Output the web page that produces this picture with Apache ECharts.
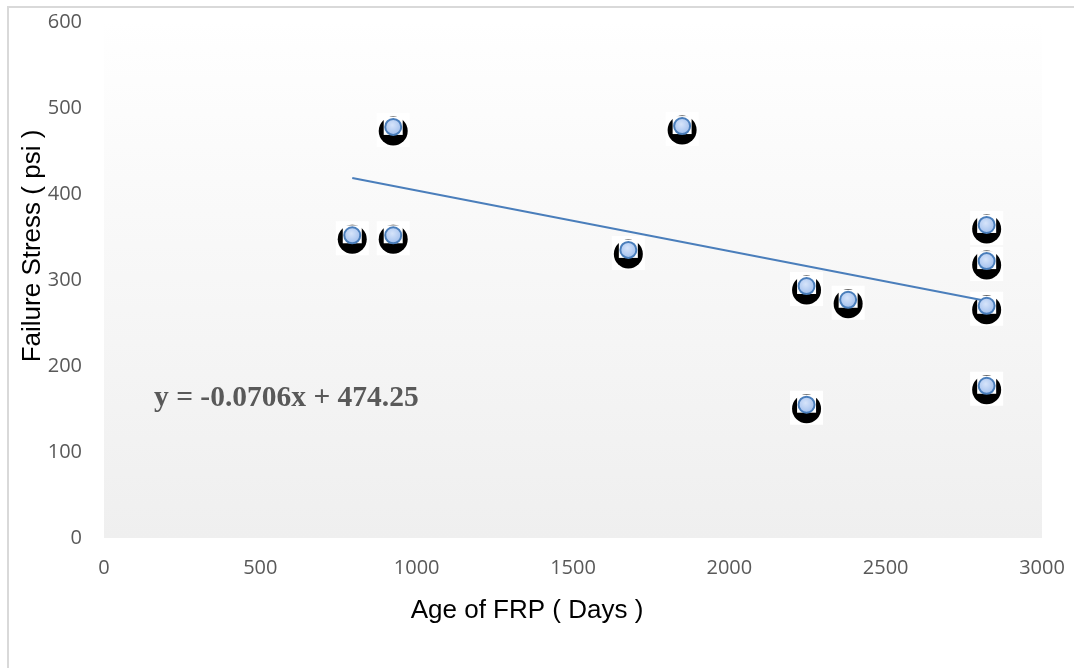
<!DOCTYPE html>
<html>
<head>
<meta charset="utf-8">
<script src="https://cdn.jsdelivr.net/npm/echarts@6/dist/echarts.min.js"></script>
<style>
	html,body{margin:0;padding:0;background:#fff;}
	#main{width:1074px;height:668px;}
</style>
</head>
<body>
<div id="main"></div>
<script>
	// age of FRP (days) and failure stress (psi)
	var ageDays = [794, 925, 925, 1677, 1849, 2247, 2247, 2380, 2823, 2823, 2823, 2823];
	var stressPsi = [352, 478, 352, 335, 479, 293, 155, 277, 364, 322, 270, 177];
	// linear trendline ends
	var trendX = [794, 2823];
	var trendY = [418.5, 275.5];
	var xTicks = [0, 500, 1000, 1500, 2000, 2500, 3000];
	var yTicks = [0, 100, 200, 300, 400, 500, 600];
	var equation = 'y = -0.0706x + 474.25';

	var points = ageDays.map(function(x, i){ return [x, stressPsi[i]]; });
	var trend = trendX.map(function(x, i){ return [x, trendY[i]]; });

	var myChart = echarts.init(document.getElementById('main'));
	var tickFont = {color:'#595959', fontSize:20, fontFamily:'Open Sans', formatter:function(v){ return String(v); }};

	var option = {
		animation:false,
		backgroundColor:'#fff',
		grid:{
			left:104, right:32, top:22, bottom:130,
			show:true, borderWidth:0,
			backgroundColor:new echarts.graphic.LinearGradient(0,0,0,1,[
				{offset:0, color:'#ffffff'},
				{offset:0.05, color:'#fefefe'},
				{offset:1, color:'#efefef'}
			])
		},
		xAxis:{
			type:'value', min:xTicks[0], max:xTicks[xTicks.length-1], interval:500,
			axisLine:{show:false}, axisTick:{show:false}, splitLine:{show:false},
			axisLabel:Object.assign({margin:20}, tickFont)
		},
		yAxis:{
			type:'value', min:yTicks[0], max:yTicks[yTicks.length-1], interval:100,
			axisLine:{show:false}, axisTick:{show:false}, splitLine:{show:false},
			axisLabel:Object.assign({margin:22}, tickFont)
		},
		graphic:[
			{ // outer frame
				type:'rect', x:8, y:7, z:-10, silent:true,
				shape:{width:1080, height:680},
				style:{fill:null, stroke:'#d9d9d9', lineWidth:2}
			},
			{
				type:'text', x:527, y:611, z:10,
				style:{text:'Age of FRP ( Days )', fill:'#000', font:'26px "Liberation Sans", Arial', align:'center', verticalAlign:'middle'}
			},
			{
				type:'text', x:33, y:246, rotation:Math.PI/2, z:10,
				style:{text:'Failure Stress ( psi )', fill:'#000', font:'26px "Liberation Sans", Arial', align:'center', verticalAlign:'middle'}
			},
			{
				type:'text', x:154, y:398, z:10,
				style:{text:equation, fill:'#595959', font:'bold 29.5px "Liberation Serif", "Times New Roman", serif', verticalAlign:'middle'}
			}
		],
		series:[
			{ // white picture box behind marker
				type:'scatter', data:points, symbol:'rect', symbolSize:[33,34], symbolOffset:[0,3],
				itemStyle:{color:'#ffffff', opacity:1}, z:2, silent:true
			},
			{
				type:'scatter', data:points, symbol:'circle', symbolSize:29, symbolOffset:[0,4],
				itemStyle:{color:'#000000', opacity:1}, z:3, silent:true
			},
			{
				type:'scatter', data:points, symbol:'rect', symbolSize:[19,18], symbolOffset:[0,-1],
				itemStyle:{color:'#ffffff', opacity:1}, z:4, silent:true
			},
			{
				type:'scatter', data:points, symbol:'circle', symbolSize:16,
				itemStyle:{
					opacity:1,
					color:new echarts.graphic.RadialGradient(0.45,0.4,0.7,[
						{offset:0, color:'#d6e4fa'},
						{offset:1, color:'#94b6ea'}
					]),
					borderColor:'#4a7ebb', borderWidth:2
				},
				z:6
			},
			{
				type:'line', data:trend, symbol:'none', z:5,
				lineStyle:{color:'#4a7ebb', width:2}
			}
		]
	};
	myChart.setOption(option, true);
</script>
</body>
</html>
